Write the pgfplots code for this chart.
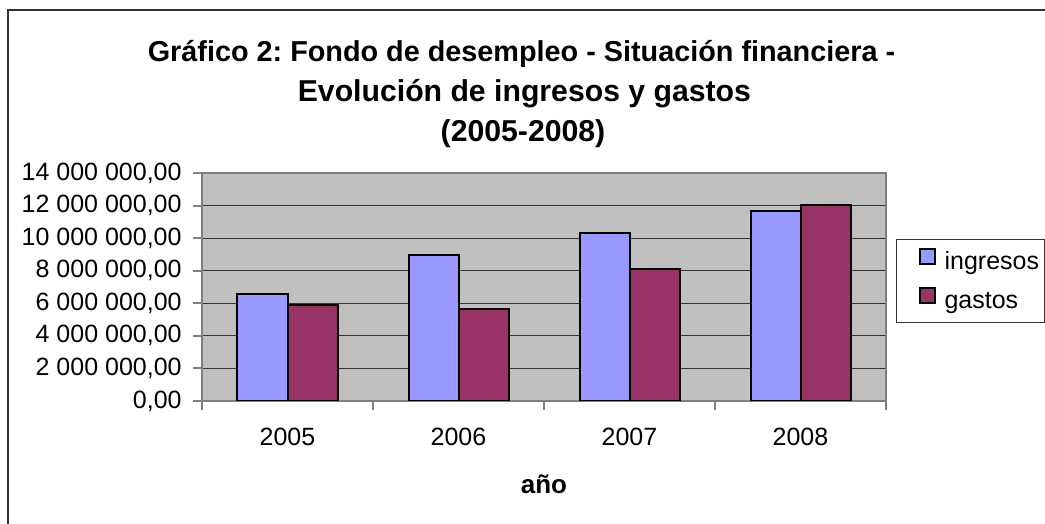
\documentclass[border=0pt]{standalone}
\usepackage{fontspec}
\setmainfont{Liberation Sans}
\usepackage{pgfplots}
\pgfplotsset{compat=1.18}
\definecolor{ingr}{HTML}{9999FF}
\definecolor{gast}{HTML}{993366}
\definecolor{plotbg}{HTML}{C0C0C0}
\frenchspacing
\begin{document}
\frenchspacing
\begin{tikzpicture}
\useasboundingbox (0,0) rectangle (522.5pt,262pt);
\draw[line width=1pt, black!80] (4pt,-2pt) -- (4pt,257pt) -- (524pt,257pt);
\begin{scope}[every node/.style={anchor=base, inner sep=0pt}]
\node[font=\fontsize{14.4}{17}\selectfont\bfseries] at (260.75pt,231pt) {Gráfico 2: Fondo de desempleo - Situación financiera -};
\node[font=\fontsize{15.1}{17}\selectfont\bfseries] at (262.2pt,211pt) {Evolución de ingresos y gastos};
\node[font=\fontsize{15.1}{17}\selectfont\bfseries] at (261.5pt,191pt) {(2005-2008)};
\end{scope}
\node[font=\fontsize{13}{15}\selectfont\bfseries, anchor=base, inner sep=0pt] at (272pt,15.3pt) {año};
\begin{axis}[
  at={(101pt,61.5pt)}, anchor=south west,
  scale only axis, width=342pt, height=114pt,
  xmin=-0.5, xmax=3.5, ymin=0, ymax=14000000,
  ybar=0pt, bar width=25pt,
  axis background/.style={fill=plotbg},
  axis line style={draw=black!50, line width=1pt},
  tick style={draw=black!50, line width=1pt},
  tick align=outside,
  major tick length=4.5pt, minor tick length=4.5pt,
  xtick pos=bottom, ytick pos=left,
  xtick={0,1,2,3}, xticklabels={2005,2006,2007,2008},
  major x tick style={draw=none},
  minor xtick={-0.5,0.5,1.5,2.5,3.5},
  ytick={0,2000000,4000000,6000000,8000000,10000000,12000000,14000000},
  yticklabels={{0,00},{2 000 000,00},{4 000 000,00},{6 000 000,00},{8 000 000,00},{10 000 000,00},{12 000 000,00},{14 000 000,00}},
  scaled y ticks=false,
  ymajorgrids, major grid style={draw=black!80, line width=0.5pt},
  ticklabel style={font=\fontsize{12.5}{15}\selectfont, inner sep=0pt},
  yticklabel style={anchor=east, xshift=-5.5pt},
  xticklabel style={anchor=north, yshift=-9pt},
  legend style={at={(1.0146,0.7105)}, anchor=north west, draw=black!80, line width=0.6pt, fill=white,
    inner xsep=3pt, inner ysep=4pt, row sep=5.5pt, column sep=4.5pt,
    font=\fontsize{12.5}{15}\selectfont,
    nodes={inner sep=0pt, text height=9pt, text depth=3pt}},
  legend cell align=left,
]
\addplot[fill=ingr, draw=black, line width=1pt,
  legend image code/.code={\path (0pt,0pt); \draw[fill=ingr, draw=black, line width=1pt] (8pt,0pt) rectangle (15.5pt,7.5pt);}]
  coordinates {(0,6600000) (1,8940000) (2,10330000) (3,11660000)};
\addplot[fill=gast, draw=black, line width=1pt,
  legend image code/.code={\path (0pt,0pt); \draw[fill=gast, draw=black, line width=1pt] (8pt,0pt) rectangle (15.5pt,7.5pt);}]
  coordinates {(0,5880000) (1,5640000) (2,8090000) (3,12050000)};
\legend{ingresos,gastos}
\end{axis}
\end{tikzpicture}
\end{document}
